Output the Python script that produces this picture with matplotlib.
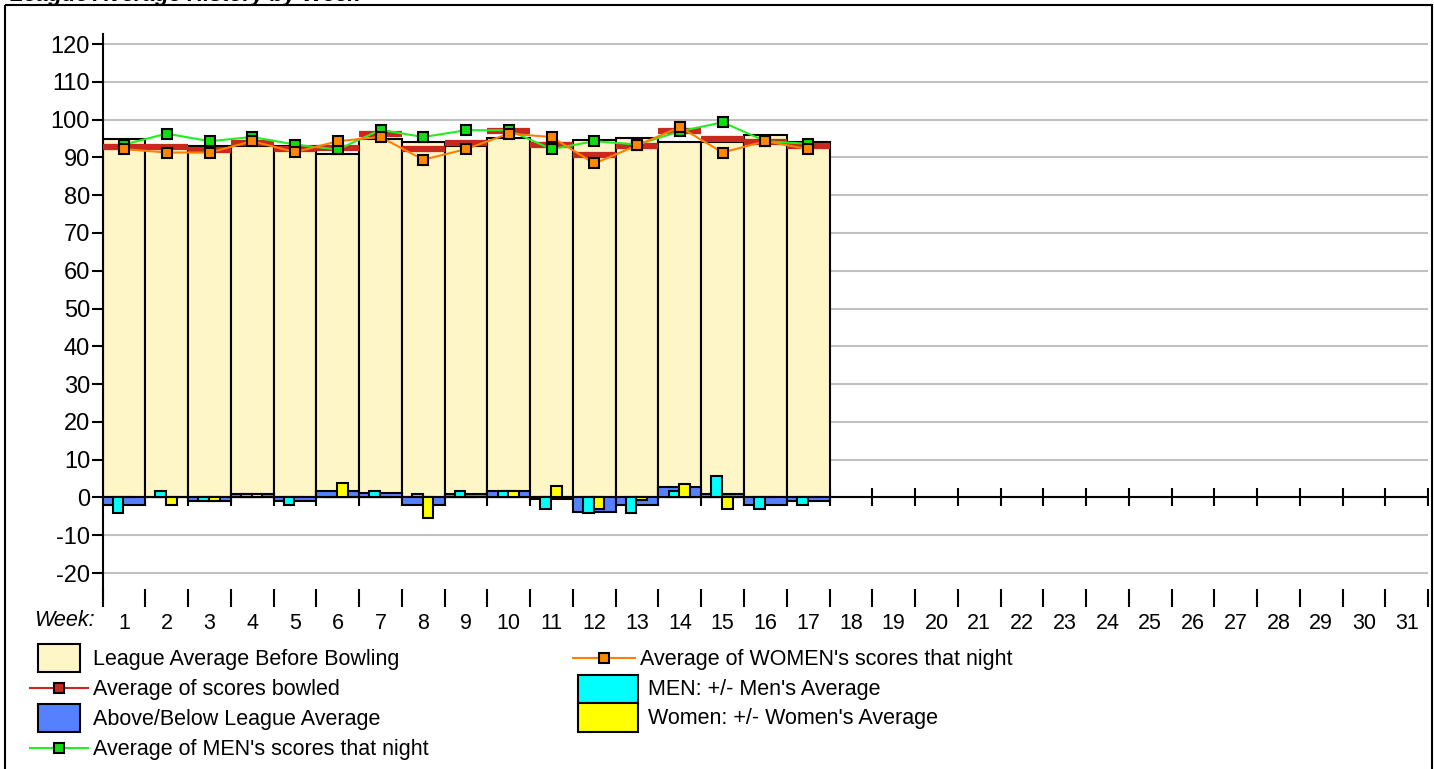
import numpy as np
import matplotlib.pyplot as plt
from matplotlib.patches import Rectangle

plt.rcParams['font.family'] = ['Liberation Sans', 'DejaVu Sans']
plt.rcParams['axes.unicode_minus'] = False

# weekly values (weeks 1-17 bowled so far)
weeks = list(range(1, 32))
played = np.arange(1, 18)
league_avg = [94.8, 92.8, 92.9, 92.9, 93.1, 90.8, 94.9, 94.2, 92.9, 95.2, 93.8, 94.5, 95.1, 94.1, 94.1, 96.0, 94.1]
scores_avg = [92.8, 92.8, 92.0, 93.9, 92.1, 92.6, 96.1, 92.1, 93.9, 96.9, 93.3, 90.7, 93.1, 97.0, 95.0, 94.2, 93.0]
above_below = [-2.0, 0.0, -1.0, 0.9, -1.0, 1.7, 1.1, -2.0, 0.9, 1.7, -0.5, -3.9, -2.0, 2.8, 0.9, -2.0, -1.0]
men_avg = [93.4, 96.3, 94.3, 95.4, 93.4, 92.1, 97.3, 95.4, 97.2, 97.2, 92.2, 94.3, 93.4, 96.9, 99.3, 94.3, 93.6]
women_avg = [92.2, 91.3, 91.3, 94.3, 91.4, 94.3, 95.4, 89.4, 92.2, 96.3, 95.4, 88.4, 93.2, 98.0, 91.3, 94.3, 92.2]
men_diff = [-4.2, 1.7, -1.0, 0.9, -2.0, 0.0, 1.6, 0.9, 1.6, 1.6, -3.0, -4.1, -4.2, 1.6, 5.6, -3.0, -2.0]
women_diff = [0.0, -2.0, -1.0, 0.9, 0.0, 3.8, 0.0, -5.3, 0.0, 1.6, 3.1, -3.0, -0.8, 3.6, -3.0, 0.0, 0.0]
y_ticks = list(range(-20, 121, 10))

c_league = '#fff6c8'
c_blue = '#5580ff'
c_red = '#c8281e'
c_green = '#22ee22'
c_orange = '#ff8000'
c_cyan = '#00ffff'
c_yellow = '#ffff00'

W, H = 1434, 769
fig = plt.figure(figsize=(W / 100, H / 100), dpi=100)
ax = fig.add_axes([102.6 / W, 1 - 597.6 / H, 1325.6 / W, (597.6 - 33.5) / H])
ax.set_xlim(0.5, 31.5)
ax.set_ylim(-26.5, 122.8)

# grid + zero axis with week ticks
ax.set_yticks(y_ticks)
ax.yaxis.grid(True, color='#c0c0c0', lw=1.5, zorder=0)
ax.set_axisbelow(True)
bounds = np.arange(0.5, 32, 1.0)
ax.axhline(0, color='black', lw=1.5, zorder=1)
ax.plot(bounds, np.zeros(len(bounds)), '|', color='black', ms=13, mew=1.5, zorder=1)

# bars
ax.bar(played, league_avg, width=1.0, color=c_league, edgecolor='black', lw=1.5, zorder=2)
ax.bar(played, above_below, width=1.0, color=c_blue, edgecolor='black', lw=1.5, zorder=3)
ax.hlines(scores_avg, played - 0.5, played + 0.5, color=c_red, lw=4.5, zorder=4)
ax.bar(played - 0.14, men_diff, width=0.25, color=c_cyan, edgecolor='black', lw=1.5, zorder=5)
ax.bar(played + 0.11, women_diff, width=0.25, color=c_yellow, edgecolor='black', lw=1.5, zorder=5)

# nightly averages
ax.plot(played, men_avg, color=c_green, lw=1.5, marker='s', ms=6.5, mfc='#11dd11', mec='black', mew=1.5, zorder=6)
ax.plot(played, women_avg, color=c_orange, lw=1.5, marker='s', ms=6.5, mfc='#ff8800', mec='black', mew=1.5, zorder=7)

# axes styling
for s in ['top', 'right', 'bottom']:
    ax.spines[s].set_visible(False)
ax.spines['left'].set_linewidth(1.5)
ax.tick_params(axis='y', direction='out', length=8, width=1.5, labelsize=17, pad=1)
ax.set_xticks(bounds)
ax.set_xticklabels([])
ax.tick_params(axis='x', which='major', direction='inout', length=13, width=1.5)
ax.set_xticks(weeks, minor=True)
ax.set_xticklabels([str(w) for w in weeks], minor=True)
ax.tick_params(axis='x', which='minor', length=0, labelsize=15.5, pad=11)

# overlay in pixel coords: frame, title, week label, legend
ov = fig.add_axes([0, 0, 1, 1])
ov.set_xlim(0, W)
ov.set_ylim(H, 0)
ov.axis('off')
ov.patch.set_alpha(0)
ov.add_patch(Rectangle((5, 5), 1427, 800, fill=False, ec='black', lw=1.5))
ov.text(10, 0.5, 'League Average History by Week', fontsize=16, fontweight='bold', fontstyle='italic', va='baseline')
ov.text(95, 621, 'Week:', fontsize=15.5, fontstyle='italic', ha='right', va='center')

fs = 15.5
def box(x, y, w, h, color, label, tx):
    ov.add_patch(Rectangle((x, y), w, h, fc=color, ec='black', lw=1.5))
    ov.text(tx, y + h / 2 + 1, label, fontsize=fs, va='center')

def line(x0, x1, y, color, mfc, label, tx):
    ov.plot([x0, x1], [y, y], color=color, lw=1.5)
    ov.plot([(x0 + x1) / 2], [y], marker='s', ms=7, mfc=mfc, mec='black', mew=1.5)
    ov.text(tx, y + 1, label, fontsize=fs, va='center')

box(38, 644, 42, 28, c_league, 'League Average Before Bowling', 93)
line(30, 88, 688, c_red, c_red, 'Average of scores bowled', 93)
box(38, 704, 42, 28, c_blue, 'Above/Below League Average', 93)
line(30, 88, 748, c_green, '#11dd11', "Average of MEN's scores that night", 93)
line(573, 635, 658, c_orange, '#ff8800', "Average of WOMEN's scores that night", 640)
box(578, 675, 60, 28, c_cyan, "MEN: +/- Men's Average", 648)
box(578, 703, 60, 29, c_yellow, "Women: +/- Women's Average", 648)

fig.savefig('out.png', dpi=100)
